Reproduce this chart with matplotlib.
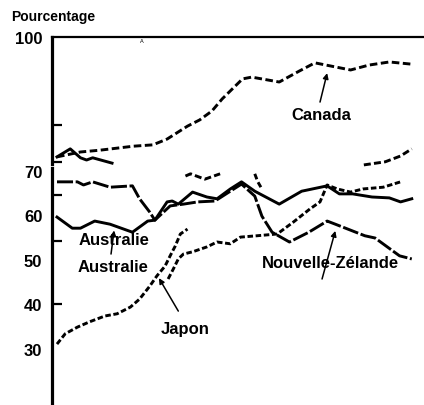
import matplotlib
matplotlib.use("Agg")
import matplotlib.pyplot as plt
import numpy as np

plt.rcParams['font.family'] = ['Liberation Sans', 'DejaVu Sans']

# ---- data ----
canada_x = [1960.0, 1962.3, 1964.2, 1967.5, 1969.4, 1970.8, 1972.8, 1974.0, 1975.2, 1976.2,
            1978.2, 1979.1, 1981.8, 1983.8, 1985.3, 1988.8, 1990.6, 1992.6, 1994.8]
canada_y = [73.1, 74.2, 74.6, 75.5, 75.8, 77.1, 80.0, 81.4, 83.4, 86.1,
            90.6, 91.0, 89.9, 92.4, 94.2, 92.6, 93.7, 94.4, 93.9]

short1_x = [1960.0, 1961.3, 1962.3, 1962.9, 1963.5, 1965.4]
short1_y = [73.1, 74.9, 72.9, 72.4, 72.9, 71.7]

short2_x = [1990.1, 1992.2, 1993.7, 1994.8]
short2_y = [71.3, 72.0, 73.3, 74.9]

short3_x = [1972.6, 1973.1, 1974.5, 1976.0]
short3_y = [68.8, 69.3, 68.1, 69.3]

short4_x = [1979.4, 1979.7, 1980.0]
short4_y = [69.3, 67.5, 66.3]

nz_x = [1960.0, 1962.0, 1962.6, 1963.5, 1965.2, 1967.4, 1968.1, 1969.1, 1969.6, 1971.1,
        1972.4, 1973.8, 1975.5, 1977.0, 1978.1, 1979.4, 1980.1, 1981.1, 1982.8, 1984.7,
        1986.5, 1987.3, 1990.2, 1991.2, 1993.6, 1994.8]
nz_y = [67.5, 67.5, 66.8, 67.5, 66.3, 66.6, 63.7, 60.7, 58.9, 62.1,
        62.5, 63.0, 63.2, 65.4, 67.0, 64.3, 59.8, 56.2, 54.0, 56.2,
        58.7, 58.0, 55.4, 54.9, 50.9, 50.2]

aus_x = [1960.0, 1961.5, 1962.3, 1963.7, 1965.2, 1967.4, 1968.9, 1969.6, 1970.8, 1971.3,
         1971.9, 1973.3, 1974.7, 1975.7, 1977.0, 1978.1, 1979.4, 1981.8, 1984.0, 1986.5,
         1987.7, 1989.0, 1990.9, 1992.6, 1993.7, 1994.8]
aus_y = [59.6, 57.1, 57.1, 58.7, 58.0, 56.2, 58.7, 58.9, 63.0, 63.2,
         62.5, 65.2, 64.1, 63.7, 65.9, 67.5, 65.4, 62.5, 65.4, 66.6,
         64.8, 64.8, 64.1, 63.9, 63.0, 63.7]

jap2_x = [1970.9, 1971.4, 1971.9, 1972.4, 1973.3, 1974.7, 1975.7, 1977.0, 1978.0, 1979.6,
          1981.6, 1983.2, 1984.8, 1985.8, 1986.5, 1987.5, 1988.8, 1990.0, 1992.0, 1993.7]
jap2_y = [45.7, 47.9, 50.2, 51.3, 51.8, 52.9, 54.0, 53.6, 55.1, 55.4,
          55.8, 58.5, 61.4, 63.0, 66.8, 65.9, 65.2, 65.9, 66.3, 67.5]

jap1_x = [1960.0, 1960.8, 1962.0, 1963.2, 1964.7, 1965.9, 1967.2, 1968.1, 1969.1, 1969.8,
          1970.6, 1971.1, 1971.6, 1972.1, 1972.8]
jap1_y = [31.1, 33.4, 34.9, 36.1, 37.4, 37.9, 39.4, 41.2, 44.1, 46.4,
          48.6, 50.9, 53.1, 55.8, 56.9]

ytick_vals = [100, 70, 60, 50, 40, 30]
ytick_labels = ['100', '70', '60', '50', '40', '30']
inner_ticks = [80.3, 72.0, 64.5, 54.2, 50.0, 40.1]

# ---- figure ----
W, H = 424, 406
fig = plt.figure(figsize=(W / 100, H / 100), dpi=100)
ax = fig.add_axes([52 / W, 0.0, (W - 52) / W, (H - 38) / H])
ax.set_xlim(1959.51, 1996.0)
ax.set_ylim(17.43, 100)

lw = 2.1
ax.plot(canada_x, canada_y, color='black', lw=lw, dashes=(2.6, 1.2))
ax.plot(short1_x, short1_y, color='black', lw=lw)
ax.plot(short2_x, short2_y, color='black', lw=lw, dashes=(2.4, 1.1))
ax.plot(short3_x, short3_y, color='black', lw=lw, dashes=(2.4, 1.1))
ax.plot(short4_x, short4_y, color='black', lw=lw, dashes=(2.0, 1.1))
ax.plot(nz_x, nz_y, color='black', lw=lw, dashes=(5.5, 0.9))
ax.plot(aus_x, aus_y, color='black', lw=lw)
ax.plot(jap2_x, jap2_y, color='black', lw=lw, dashes=(1.9, 0.9))
ax.plot(jap1_x, jap1_y, color='black', lw=lw, dashes=(1.9, 0.9))

# spines
for s in ['right', 'bottom', 'left']:
    ax.spines[s].set_visible(False)
ax.spines['top'].set_linewidth(1.6)
ymin, ymax = ax.get_ylim()
gap_lo = (70.6 - ymin) / (ymax - ymin)
gap_hi = (71.5 - ymin) / (ymax - ymin)
ax.axvline(ax.get_xlim()[0], ymin=0, ymax=gap_lo, color='black', lw=2.3, clip_on=False)
ax.axvline(ax.get_xlim()[0], ymin=gap_hi, ymax=1.0, color='black', lw=2.3, clip_on=False)

ax.set_xticks([])
ax.set_yticks(ytick_vals)
ax.set_yticklabels(ytick_labels)
ax.set_yticks(inner_ticks, minor=True)
ax.tick_params(axis='y', which='major', length=0, pad=7)
ax.tick_params(axis='y', which='minor', direction='in', length=7.5, width=1.6)
for t in ax.get_yticklabels():
    t.set_fontfamily(['Liberation Sans Narrow', 'Liberation Sans'])
    t.set_fontweight('bold')
    t.set_fontsize(12)

fig.text(11 / W, 1 - 17 / H, 'Pourcentage', fontsize=10, fontweight='bold',
         ha='left', va='center')
ax.text(1968.3, 99.2, 'A', fontsize=4, ha='center', va='center')

lab = dict(fontsize=12, fontweight='bold', ha='center', va='center')
ax.text(1985.9, 82.7, 'Canada', **lab)
ax.text(1965.6, 54.5, 'Australie', **lab)
ax.text(1965.5, 48.6, 'Australie', **lab)
ax.text(1972.6, 34.7, 'Japon', **lab)
ax.text(1986.8, 49.3, 'Nouvelle-Zélande', **lab)

arr = dict(arrowstyle='-|>', lw=1.1, color='black', mutation_scale=8,
           shrinkA=0, shrinkB=0)
ax.annotate('', xy=(1986.5, 91.9), xytext=(1985.8, 85.4), arrowprops=arr)
ax.annotate('', xy=(1965.6, 56.6), xytext=(1965.3, 51.3), arrowprops=arr)
ax.annotate('', xy=(1970.0, 45.9), xytext=(1971.9, 38.5), arrowprops=arr)
ax.annotate('', xy=(1987.3, 56.5), xytext=(1986.0, 45.7), arrowprops=arr)

fig.savefig('out.png', dpi=100)
